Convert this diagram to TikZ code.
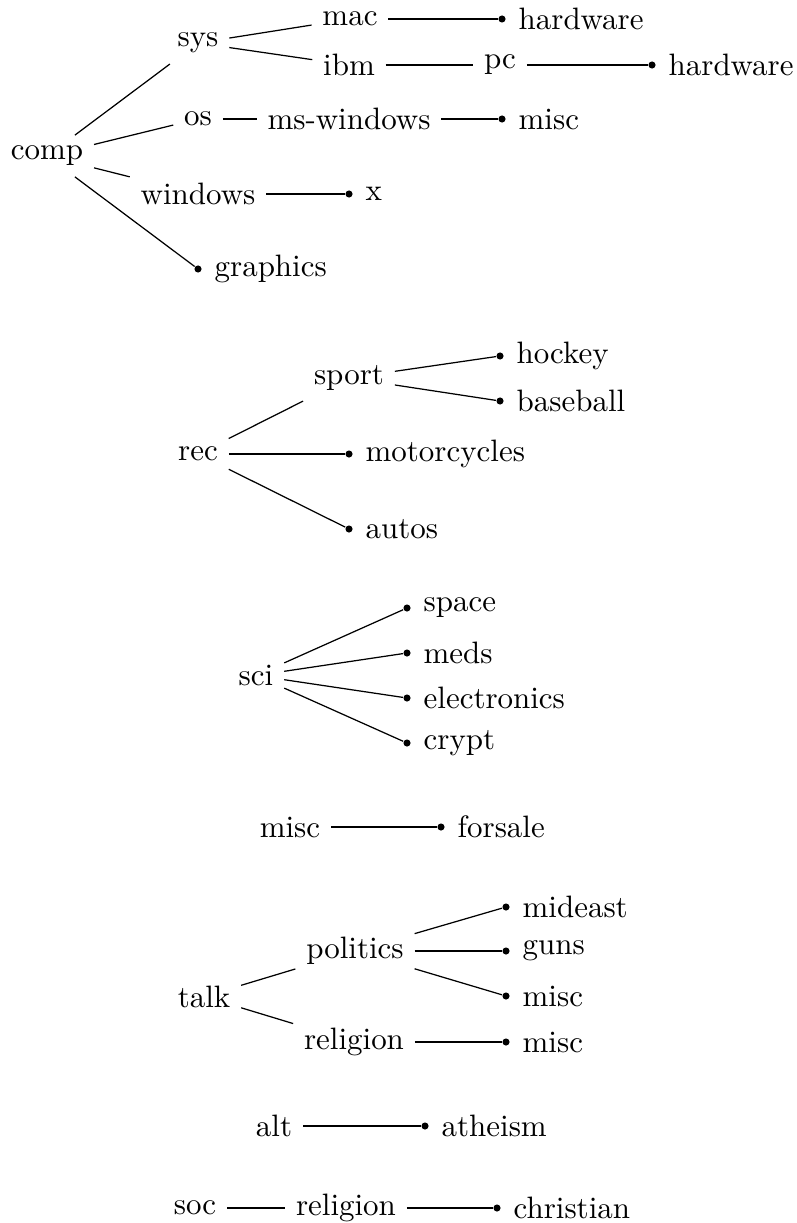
\documentclass[tikz,border=0pt]{standalone}
\usetikzlibrary{positioning}
\tikzset{
  nd/.style={inner sep=0.3333em},
  leafdot/.style={circle, fill=black, inner sep=0pt, minimum size=2.3pt},
  lbl/.style={inner sep=0.3333em, anchor=west},
  edge/.style={draw=black, line width=0.4pt}
}
\begin{document}
\begin{tikzpicture}[x=0.323pt, y=-0.323pt]
\useasboundingbox (0,0) rectangle (796,1223);
% ---------- comp ----------
\node[nd] (comp) at (47,156) {comp};
\node[nd] (sys) at (198,43) {sys};
\node[nd] (mac) at (350,19) {mac};
\node[leafdot] (dhw1) at (502,19) {};
\node[lbl, right=0.5pt of dhw1] (hw1) {hardware};
\node[nd] (ibm) at (349,65) {ibm};
\node[nd] (pc) at (500,65) {pc};
\node[leafdot] (dhw2) at (652,65) {};
\node[lbl, right=0.5pt of dhw2] (hw2) {hardware};
\node[nd] (os) at (198,119) {os};
\node[nd] (msw) at (349,119) {ms-windows};
\node[leafdot] (dmisc1) at (502,119) {};
\node[lbl, right=0.5pt of dmisc1] (misc1) {misc};
\node[nd] (windows) at (198,194) {windows};
\node[leafdot] (dx) at (349,194) {};
\node[lbl, right=0.5pt of dx] (x) {x};
\node[leafdot] (dgraphics) at (198,269) {};
\node[lbl, right=0.5pt of dgraphics] (graphics) {graphics};
\draw[edge] (comp) -- (sys);
\draw[edge] (comp) -- (os);
\draw[edge] (comp) -- (windows);
\draw[edge] (comp) -- (dgraphics);
\draw[edge] (sys) -- (mac);
\draw[edge] (sys) -- (ibm);
\draw[edge] (mac) -- (dhw1);
\draw[edge] (ibm) -- (pc);
\draw[edge] (pc) -- (dhw2);
\draw[edge] (os) -- (msw);
\draw[edge] (msw) -- (dmisc1);
\draw[edge] (windows) -- (dx);
% ---------- rec ----------
\node[nd] (rec) at (198,454) {rec};
\node[nd] (sport) at (349,378) {sport};
\node[leafdot] (dhockey) at (500,356) {};
\node[lbl, right=0.5pt of dhockey] (hockey) {hockey};
\node[leafdot] (dbaseball) at (500,401) {};
\node[lbl, right=0.5pt of dbaseball] (baseball) {baseball};
\node[leafdot] (dmoto) at (349,454) {};
\node[lbl, right=0.5pt of dmoto] (moto) {motorcycles};
\node[leafdot] (dautos) at (349,529) {};
\node[lbl, right=0.5pt of dautos] (autos) {autos};
\draw[edge] (rec) -- (sport);
\draw[edge] (rec) -- (dmoto);
\draw[edge] (rec) -- (dautos);
\draw[edge] (sport) -- (dhockey);
\draw[edge] (sport) -- (dbaseball);
% ---------- sci ----------
\node[nd] (sci) at (256,675.5) {sci};
\node[leafdot] (dspace) at (407,608) {};
\node[lbl, right=0.5pt of dspace] (space) {space};
\node[leafdot] (dmeds) at (407,653) {};
\node[lbl, right=0.5pt of dmeds] (meds) {meds};
\node[leafdot] (delec) at (407,698) {};
\node[lbl, right=0.5pt of delec] (elec) {electronics};
\node[leafdot] (dcrypt) at (407,743) {};
\node[lbl, right=0.5pt of dcrypt] (crypt) {crypt};
\draw[edge] (sci) -- (dspace);
\draw[edge] (sci) -- (dmeds);
\draw[edge] (sci) -- (delec);
\draw[edge] (sci) -- (dcrypt);
% ---------- misc ----------
\node[nd] (misc) at (290,827) {misc};
\node[leafdot] (dforsale) at (441,827) {};
\node[lbl, right=0.5pt of dforsale] (forsale) {forsale};
\draw[edge] (misc) -- (dforsale);
% ---------- talk ----------
\node[nd] (talk) at (204,996.5) {talk};
\node[nd] (politics) at (355,951) {politics};
\node[nd] (religion1) at (354,1042) {religion};
\node[leafdot] (dmideast) at (506,907) {};
\node[lbl, right=0.5pt of dmideast] (mideast) {mideast};
\node[leafdot] (dguns) at (506,951) {};
\node[lbl, right=0.5pt of dguns] (guns) {guns};
\node[leafdot] (dmisc2) at (506,996) {};
\node[lbl, right=0.5pt of dmisc2] (misc2) {misc};
\node[leafdot] (dmisc3) at (506,1042) {};
\node[lbl, right=0.5pt of dmisc3] (misc3) {misc};
\draw[edge] (talk) -- (politics);
\draw[edge] (talk) -- (religion1);
\draw[edge] (politics) -- (dmideast);
\draw[edge] (politics) -- (dguns);
\draw[edge] (politics) -- (dmisc2);
\draw[edge] (religion1) -- (dmisc3);
% ---------- alt ----------
\node[nd] (alt) at (274,1126) {alt};
\node[leafdot] (datheism) at (425,1126) {};
\node[lbl, right=0.5pt of datheism] (atheism) {atheism};
\draw[edge] (alt) -- (datheism);
% ---------- soc ----------
\node[nd] (soc) at (195,1208) {soc};
\node[nd] (religion2) at (346,1208) {religion};
\node[leafdot] (dchristian) at (497,1208) {};
\node[lbl, right=0.5pt of dchristian] (christian) {christian};
\draw[edge] (soc) -- (religion2);
\draw[edge] (religion2) -- (dchristian);
\end{tikzpicture}
\end{document}
